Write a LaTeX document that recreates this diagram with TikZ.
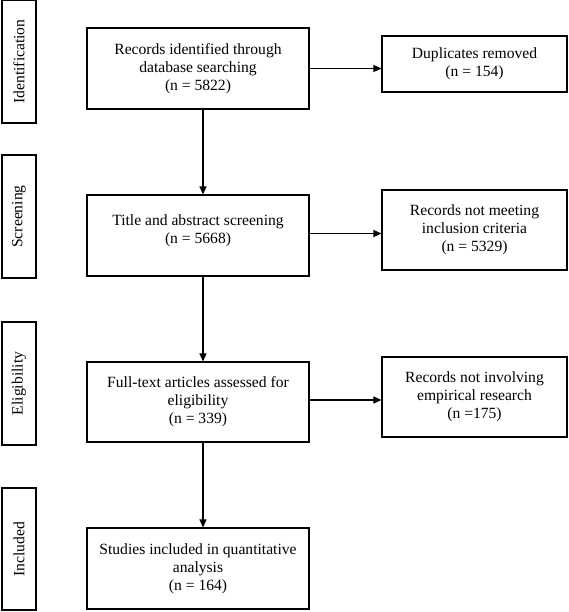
\documentclass[tikz,border=0pt]{standalone}
\usepackage{fontspec}
\setmainfont{Liberation Serif}
\usetikzlibrary{arrows.meta}
\begin{document}
\begin{tikzpicture}[x=1pt,y=-1pt,
  every node/.style={font=\fontsize{15.6}{18}\selectfont, align=center, inner sep=0pt},
  mainbox/.style={draw, line width=1.1pt, minimum width=222pt},
  sidebox/.style={draw, line width=1.4pt, rotate=90, minimum width=123pt, minimum height=34pt},
  rightbox/.style={draw, line width=1.1pt, minimum width=185pt},
  arr/.style={line width=1.3pt, -{Triangle[length=8pt,width=7pt]}}]
\useasboundingbox (0,0) rectangle (568,612);
% side labels
\node[sidebox] (id) at (19,61.5) {Identification};
\node[sidebox] (sc) at (19,216.5) {Screening};
\node[sidebox] (el) at (19,383.5) {Eligibility};
\node[sidebox, minimum width=122pt] (inc) at (19,549) {Included};
% main boxes
\node[mainbox, minimum height=81pt] (b1) at (198,68.5) {Records identified through\\database searching\\(n = 5822)};
\node[mainbox, minimum height=81pt] (b2) at (198,235.5) {};
\node[anchor=center] (b2t) at (198,231) {Title and abstract screening\\(n = 5668)};
\node[mainbox, minimum height=80pt] (b3) at (198,402) {Full-text articles assessed for\\eligibility\\(n = 339)};
\node[mainbox, minimum height=81pt] (b4) at (198,568.5) {Studies included in quantitative\\analysis\\(n = 164)};
% right boxes
\node[rightbox, minimum height=56pt] (r1) at (474.5,64) {Duplicates removed\\(n = 154)};
\node[rightbox, minimum height=80pt] (r2) at (474.5,230) {Records not meeting\\inclusion criteria\\(n = 5329)};
\node[rightbox, minimum height=80pt] (r3) at (474.5,397) {Records not involving\\empirical research\\(n =175)};
% arrows
\draw[arr] (b1.east) -- (b1.east -| r1.west);
\draw[arr] ([yshift=2pt]b2.east) -- ([yshift=2pt]b2.east -| r2.west);
\draw[arr] ([yshift=2pt]b3.east) -- ([yshift=2pt]b3.east -| r3.west);
\draw[arr] ([xshift=5pt]b1.south) -- ([xshift=5pt]b2.north);
\draw[arr] ([xshift=5pt]b2.south) -- ([xshift=5pt]b3.north);
\draw[arr] ([xshift=5pt]b3.south) -- ([xshift=5pt]b4.north);
\end{tikzpicture}
\end{document}
